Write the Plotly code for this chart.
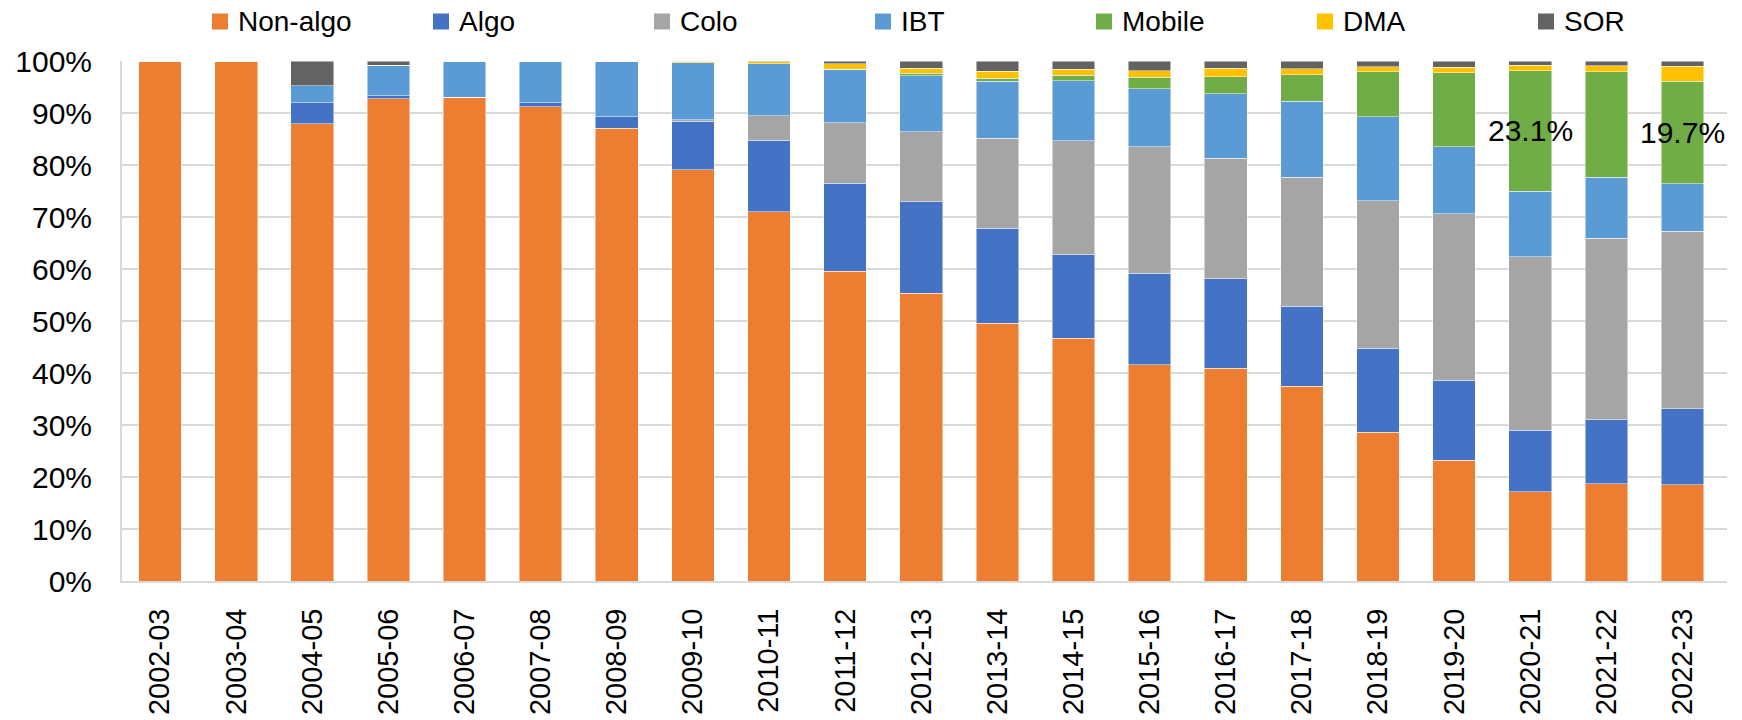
import plotly.graph_objects as go

# Financial years on the category axis
periods = ["2002-03", "2003-04", "2004-05", "2005-06", "2006-07", "2007-08",
           "2008-09", "2009-10", "2010-11", "2011-12", "2012-13", "2013-14",
           "2014-15", "2015-16", "2016-17", "2017-18", "2018-19", "2019-20",
           "2020-21", "2021-22", "2022-23"]

# Share of turnover by trading channel (%)
non_algo = [100.0, 100.0, 87.9, 92.7, 92.9, 91.2, 87.1, 79.1, 71.0, 59.6, 55.3,
            49.6, 46.7, 41.6, 40.9, 37.5, 28.6, 23.2, 17.2, 18.7, 18.5]
algo = [0.0, 0.0, 4.1, 0.6, 0.1, 0.8, 2.2, 9.3, 13.8, 16.9, 17.6,
        18.2, 16.0, 17.6, 17.2, 15.3, 16.2, 15.4, 11.8, 12.3, 14.6]
colo = [0.0, 0.0, 0.0, 0.0, 0.0, 0.0, 0.0, 0.3, 4.7, 11.6, 13.5,
        17.3, 22.0, 24.3, 23.2, 24.8, 28.3, 32.0, 33.4, 34.9, 34.2]
ibt = [0.0, 0.0, 3.2, 5.9, 7.0, 8.0, 10.6, 11.0, 10.0, 10.3, 10.8,
       11.0, 11.5, 11.2, 12.4, 14.7, 16.2, 12.9, 12.6, 11.7, 9.1]
mobile = [0.0, 0.0, 0.0, 0.0, 0.0, 0.0, 0.0, 0.0, 0.0, 0.0, 0.4,
          0.6, 1.1, 2.2, 3.3, 5.1, 8.6, 14.2, 23.1, 20.3, 19.7]
dma = [0.0, 0.0, 0.0, 0.0, 0.0, 0.0, 0.1, 0.3, 0.4, 1.1, 1.0,
       1.3, 1.1, 1.2, 1.6, 1.1, 1.0, 1.1, 1.1, 1.2, 2.9]
sor = [0.0, 0.0, 4.8, 0.8, 0.0, 0.0, 0.0, 0.0, 0.1, 0.5, 1.4,
       2.0, 1.6, 1.9, 1.4, 1.5, 1.1, 1.2, 0.8, 0.9, 1.0]

# Years whose Mobile share is written on the bar
labelled_periods = ["2020-21", "2022-23"]

series = [
    ("Non-algo", non_algo, "#ED7D31"),
    ("Algo", algo, "#4472C4"),
    ("Colo", colo, "#A5A5A5"),
    ("IBT", ibt, "#5B9BD5"),
    ("Mobile", mobile, "#70AD47"),
    ("DMA", dma, "#FFC000"),
    ("SOR", sor, "#636363"),
]

FONT = "Liberation Sans, Arial, sans-serif"

# Figure geometry (pixels)
W, H = 1742, 720
M_L, M_R, M_T, M_B = 122, 15, 61, 139
PLOT_W = W - M_L - M_R
PLOT_H = H - M_T - M_B


def px_to_paper_x(px):
    return (px - M_L) / PLOT_W


def px_to_paper_y(py):
    return (H - M_B - py) / PLOT_H


fig = go.Figure()

for name, values, color in series:
    fig.add_trace(go.Bar(
        x=periods, y=values, name=name,
        marker=dict(color=color, line=dict(width=0.6, color="rgba(255,255,255,0.8)")),
        hovertemplate="%{x}<br>" + name + ": %{y:.1f}%<extra></extra>",
    ))

# Mobile share labels, centred in the Mobile segment
annotations = []
for period in labelled_periods:
    i = periods.index(period)
    base = non_algo[i] + algo[i] + colo[i] + ibt[i]
    annotations.append(dict(
        x=period, y=base + mobile[i] / 2, xref="x", yref="y",
        text=f"{mobile[i]:.1f}%", showarrow=False,
        font=dict(family=FONT, size=30, color="#000000"),
        xanchor="center", yanchor="middle",
    ))

# Single-row legend across the top: square swatch followed by the series name
shapes = []
LEG_X0, LEG_STEP, SWATCH, LEG_CY = 212, 221, 16, 21.5
for k, (name, _, color) in enumerate(series):
    sx = LEG_X0 + k * LEG_STEP
    shapes.append(dict(
        type="rect", xref="paper", yref="paper",
        x0=px_to_paper_x(sx), x1=px_to_paper_x(sx + SWATCH),
        y0=px_to_paper_y(LEG_CY + SWATCH / 2), y1=px_to_paper_y(LEG_CY - SWATCH / 2),
        fillcolor=color, line=dict(width=0), layer="above",
    ))
    annotations.append(dict(
        x=px_to_paper_x(sx + SWATCH + 8), y=px_to_paper_y(LEG_CY),
        xref="paper", yref="paper", text=name, showarrow=False,
        xanchor="left", yanchor="middle",
        font=dict(family=FONT, size=28, color="#000000"),
    ))

fig.update_layout(
    width=W, height=H, autosize=False,
    barmode="stack", bargap=0.44,
    margin=dict(l=M_L, r=M_R, t=M_T, b=M_B, autoexpand=False),
    paper_bgcolor="white", plot_bgcolor="white",
    font=dict(family=FONT, size=28, color="#000000"),
    showlegend=False,
    annotations=annotations,
    shapes=shapes,
)

fig.update_yaxes(
    range=[0, 100], dtick=10, ticksuffix="%",
    showgrid=True, gridcolor="#D9D9D9", gridwidth=2,
    showline=True, linecolor="#D9D9D9", linewidth=2,
    ticks="", ticklabelstandoff=22, zeroline=False, automargin=False,
    tickfont=dict(family=FONT, size=30, color="#000000"),
)
fig.update_xaxes(
    type="category", tickangle=-90,
    showline=True, linecolor="#D9D9D9", linewidth=2,
    ticks="", ticklabelstandoff=14, showgrid=False, automargin=False,
    tickfont=dict(family=FONT, size=29, color="#000000"),
)

fig.write_html("out.html")
